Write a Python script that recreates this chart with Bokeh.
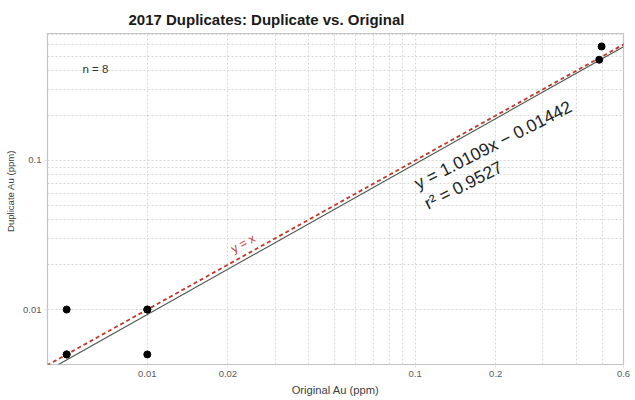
import math
from bokeh.plotting import figure
from bokeh.models import Label, FixedTicker, Grid, CustomJSTickFormatter, ColumnDataSource, Range1d
from bokeh.embed import file_html
from bokeh.resources import INLINE

# ---- data ----
orig_au = [0.005, 0.005, 0.005, 0.01, 0.01, 0.01, 0.487, 0.497]
dup_au = [0.005, 0.005, 0.01, 0.01, 0.01, 0.005, 0.474, 0.582]

fit_x = [0.00466, 0.6]
fit_y = [0.00428, 0.58]
ref_x = [0.004, 0.7]
ref_y = [0.004, 0.7]

x_tick_vals = [0.01, 0.02, 0.1, 0.2, 0.6]
y_tick_vals = [0.01, 0.1]
x_grid_vals = [0.01, 0.02, 0.03, 0.04, 0.05, 0.06, 0.07, 0.08, 0.09,
               0.1, 0.2, 0.3, 0.4, 0.5, 0.6]
y_grid_vals = [0.01, 0.02, 0.03, 0.04, 0.05, 0.06, 0.07, 0.08, 0.09,
               0.1, 0.2, 0.3, 0.4, 0.5, 0.6, 0.7]

title_text = "2017 Duplicates: Duplicate vs. Original"
x_label = "Original Au (ppm)"
y_label = "Duplicate Au (ppm)"
eq_text = "y = 1.0109x \u2212 0.01442"
r2_text = "r\u00b2 = 0.9527"
n_text = "n = 8"
ref_text = "y = x"

FONT = "Liberation Sans"

p = figure(width=635, height=400, x_axis_type="log", y_axis_type="log",
           x_range=Range1d(0.00424, 0.6), y_range=Range1d(0.00428, 0.711),
           output_backend="svg", toolbar_location=None,
           min_border_left=47, min_border_right=12, min_border_top=33, min_border_bottom=36)

p.background_fill_color = "white"
p.border_fill_color = "white"
p.outline_line_color = "#c4c4c4"
p.outline_line_width = 1.2

# title
p.title.text = title_text
p.title.align = "left"
p.title.offset = 81
p.title.standoff = 12
p.title.text_font = FONT
p.title.text_font_style = "bold"
p.title.text_font_size = "15px"
p.title.text_color = "#1a1a1a"

p.xgrid.visible = False
p.ygrid.visible = False
p.add_layout(Grid(dimension=0, ticker=FixedTicker(ticks=x_grid_vals),
                  grid_line_color="#d6d6d6", grid_line_dash="2 2", grid_line_width=1))
p.add_layout(Grid(dimension=1, ticker=FixedTicker(ticks=y_grid_vals),
                  grid_line_color="#d6d6d6", grid_line_dash="2 2", grid_line_width=1))

fmt = "return tick.toString();"
for ax, ticks in ((p.xaxis[0], x_tick_vals), (p.yaxis[0], y_tick_vals)):
    ax.ticker = FixedTicker(ticks=ticks)
    ax.formatter = CustomJSTickFormatter(code=fmt)
    ax.axis_line_color = None
    ax.major_tick_line_color = "#d0d0d0"
    ax.major_tick_line_dash = "1 1"
    ax.major_tick_out = 3
    ax.major_tick_in = 0
    ax.minor_tick_line_color = None
    ax.major_label_standoff = 3
    ax.major_label_text_font = FONT
    ax.major_label_text_font_size = "9.5px"
    ax.major_label_text_color = "#595959"
    ax.axis_label_text_font = FONT
    ax.axis_label_text_font_style = "normal"
    ax.axis_label_text_color = "#404040"

p.xaxis.axis_label = x_label
p.xaxis.axis_label_text_font_size = "11.2px"
p.xaxis.axis_label_standoff = 4
# leading no-break spaces nudge the centred label up, as in the reference
p.yaxis.axis_label = "\u00a0" * 6 + y_label
p.yaxis.axis_label_text_font_size = "9.6px"
p.yaxis.axis_label_standoff = 4

# lines
p.line(fit_x, fit_y, line_color="#4a544a", line_width=1.1)
p.line(ref_x, ref_y, line_color="#c0392b", line_width=1.8, line_dash="4 3")

# points
src = ColumnDataSource(dict(x=orig_au, y=dup_au))
p.scatter("x", "y", source=src, size=7, fill_color="black", line_color="black")

# annotations inside the plot area
p.add_layout(Label(x=35, y=296, x_units="screen", y_units="screen", text=n_text,
                   text_align="left", text_baseline="middle", text_font=FONT,
                   text_font_size="11.5px", text_color="#333333"))
p.add_layout(Label(x=0.0228, y=0.0277, text=ref_text, angle=math.radians(29),
                   text_align="center", text_baseline="middle", text_font=FONT,
                   text_font_size="12px", text_color="#c0392b"))
p.add_layout(Label(x=368, y=180, x_units="screen", y_units="screen", text=eq_text,
                   angle=math.radians(27), text_align="left", text_baseline="middle",
                   text_font=FONT, text_font_size="17.5px", text_color="#222222"))
p.add_layout(Label(x=378, y=160, x_units="screen", y_units="screen", text=r2_text,
                   angle=math.radians(27), text_align="left", text_baseline="middle",
                   text_font=FONT, text_font_size="17.5px", text_color="#222222"))

open("out.html", "w").write(file_html(p, INLINE))
